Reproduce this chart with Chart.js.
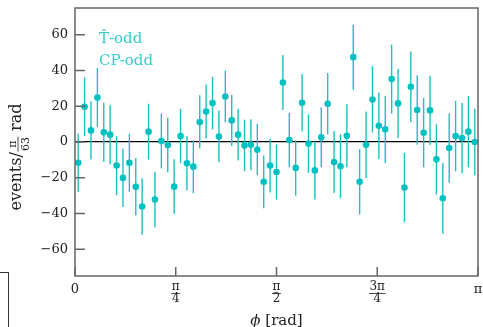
<!doctype html>
<html>
	<head>
		<meta charset="utf-8" />
		<title>phi distribution</title>
		<script src="https://cdn.jsdelivr.net/npm/chart.js@4.4.1/dist/chart.umd.min.js"></script>
		<style>
			html,
			body {
				margin: 0;
				padding: 0;
				background: #fff;
				overflow: hidden;
			}

			#wrap {
				position: relative;
				width: 483px;
				height: 327px;
			}

			/* stray box edge in the corner of the original figure */
			#corner {
				position: absolute;
				left: -2px;
				top: 272px;
				width: 10px;
				height: 60px;
				border-top: 1.5px solid #333;
				border-right: 1.5px solid #333;
			}
		</style>
	</head>

	<body>
		<div id="wrap">
			<canvas id="chartJSContainer" width="483" height="327"></canvas>
			<div id="corner"></div>
		</div>

		<script>
			// 63 bins over [0, pi]
			const nBins = 63;

			const yValues = [
				-11.6, 19.7, 6.5, 24.9, 5.4, 4.1, -13.2, -20.1, -11.6, -25.1,
				-36.1, 5.8, -32.2, 0.6, -1.7, -25.0, 3.3, -11.9, -13.8, 11.2,
				17.1, 21.8, 3.1, 25.5, 12.1, 4.1, -1.9, -1.5, -4.3, -22.3,
				-13.2, -16.8, 33.3, 1.1, -14.5, 22.0, -0.9, -15.9, 2.6, 21.4,
				-11.2, -13.6, 3.5, 47.5, -22.3, -1.5, 23.8, 9.1, 7.1, 35.2,
				21.6, -25.5, 30.9, 17.9, 5.2, 17.7, -9.7, -31.5, -3.4, 3.3,
				2.2, 5.8, 0.0,
			];

			const yErrors = [
				16.4, 16.5, 16.3, 16.6, 16.5, 16.5, 16.5, 16.3, 16.3, 16.1,
				15.8, 15.6, 15.5, 15.4, 15.3, 15.3, 15.2, 15.2, 14.8, 14.9,
				15.1, 14.7, 14.5, 14.5, 14.4, 14.4, 14.4, 14.3, 14.4, 14.8,
				15.0, 15.4, 15.4, 15.2, 15.5, 16.1, 16.3, 16.3, 16.8, 17.2,
				17.4, 17.9, 17.6, 18.2, 18.3, 18.6, 18.6, 18.6, 18.8, 19.3,
				19.3, 19.4, 19.7, 19.4, 19.4, 19.4, 19.7, 19.8, 19.4, 19.7,
				19.6, 19.9, 18.6,
			];

			const xTickValues = [0, Math.PI / 4, Math.PI / 2, (3 * Math.PI) / 4, Math.PI];
			const xTickLabels = ["0", ["π", "4"], ["π", "2"], ["3π", "4"], "π"];
			const yTickValues = [-60, -40, -20, 0, 20, 40, 60];
			const legendLines = ["T̂-odd", "CP-odd"];

			const pointColor = "#00C1C1";
			const barColor = "#1DC0C6";
			const frameColor = "#666";
			const serif = "'DejaVu Serif', serif";
			const fracSize = 12;

			// bin centres
			const points = yValues.map((v, i) => ({
				x: ((i + 0.5) * Math.PI) / nBins,
				y: v,
			}));

			function noPad(s) {
				s.paddingTop = 0;
				s.paddingBottom = 0;
				s.paddingLeft = 0;
				s.paddingRight = 0;
			}

			const decorations = {
				id: "decorations",
				beforeDatasetsDraw(chart) {
					// error bars, under the markers
					const { ctx } = chart;
					const xs = chart.scales.x,
						ys = chart.scales.y;
					ctx.save();
					ctx.strokeStyle = barColor;
					ctx.lineWidth = 1.4;
					points.forEach((p, i) => {
						const px = xs.getPixelForValue(p.x);
						ctx.beginPath();
						ctx.moveTo(px, ys.getPixelForValue(p.y - yErrors[i]));
						ctx.lineTo(px, ys.getPixelForValue(p.y + yErrors[i]));
						ctx.stroke();
					});
					ctx.restore();
				},
				afterDraw(chart) {
					const { ctx, chartArea: a } = chart;
					const xs = chart.scales.x,
						ys = chart.scales.y;
					ctx.save();

					// frame
					ctx.strokeStyle = frameColor;
					ctx.lineWidth = 1.5;
					ctx.strokeRect(a.left, a.top, a.right - a.left, a.bottom - a.top);

					// inward ticks
					ctx.beginPath();
					yTickValues.forEach((v) => {
						const py = ys.getPixelForValue(v);
						ctx.moveTo(a.left, py);
						ctx.lineTo(a.left + 10, py);
					});
					xTickValues.forEach((v) => {
						const px = xs.getPixelForValue(v);
						ctx.moveTo(px, a.bottom);
						ctx.lineTo(px, a.bottom - 9);
					});
					ctx.stroke();

					// fraction bars under the x tick labels
					ctx.strokeStyle = "#222";
					ctx.lineWidth = 0.8;
					ctx.font = fracSize + "px " + serif;
					xTickLabels.forEach((lab, i) => {
						if (!Array.isArray(lab)) return;
						const px = xs.getPixelForValue(xTickValues[i]);
						const w = Math.max(...lab.map((s) => ctx.measureText(s).width)) + 1;
						const py = a.bottom + 5 + fracSize + 0.5;
						ctx.beginPath();
						ctx.moveTo(px - w / 2, py);
						ctx.lineTo(px + w / 2, py);
						ctx.stroke();
					});

					// legend text
					ctx.fillStyle = "#36CCCC";
					ctx.font = "15px " + serif;
					ctx.textBaseline = "alphabetic";
					ctx.textAlign = "left";
					legendLines.forEach((s, i) => {
						ctx.fillText(s, a.left + 24, a.top + 35 + i * 22);
					});

					// x title
					ctx.fillStyle = "#222";
					ctx.textAlign = "left";
					const phi = "ϕ",
						rest = " [rad]";
					ctx.font = "italic 15px " + serif;
					const wPhi = ctx.measureText(phi).width;
					ctx.font = "15px " + serif;
					const wRest = ctx.measureText(rest).width;
					let tx = (a.left + a.right) / 2 - (wPhi + wRest) / 2;
					ctx.font = "italic 15px " + serif;
					ctx.fillText(phi, tx, 325);
					ctx.font = "15px " + serif;
					ctx.fillText(rest, tx + wPhi, 325);

					// y title: events / (pi over 63) rad
					ctx.translate(20.5, 157);
					ctx.rotate(-Math.PI / 2);
					ctx.font = "16px " + serif;
					const s1 = "events/",
						s2 = " rad";
					const w1 = ctx.measureText(s1).width,
						w2 = ctx.measureText(s2).width;
					ctx.font = "11px " + serif;
					const wf = Math.max(ctx.measureText("63").width, ctx.measureText("π").width) + 2;
					let x0 = -(w1 + wf + w2) / 2;
					ctx.font = "16px " + serif;
					ctx.fillText(s1, x0, 0);
					x0 += w1;
					ctx.font = "11px " + serif;
					ctx.textAlign = "center";
					ctx.fillText("π", x0 + wf / 2, -4.5);
					ctx.fillText("63", x0 + wf / 2, 8);
					ctx.lineWidth = 0.8;
					ctx.beginPath();
					ctx.moveTo(x0 + 0.5, -2.5);
					ctx.lineTo(x0 + wf - 0.5, -2.5);
					ctx.stroke();
					x0 += wf;
					ctx.textAlign = "left";
					ctx.font = "16px " + serif;
					ctx.fillText(s2, x0, 0);

					ctx.restore();
				},
			};

			const ctx = document.getElementById("chartJSContainer").getContext("2d");
			window.testedChart = new Chart(ctx, {
				type: "scatter",
				data: {
					datasets: [
						{
							label: legendLines.join(" "),
							data: points,
							backgroundColor: pointColor,
							borderWidth: 0,
							pointRadius: 3.3,
							showLine: false,
						},
					],
				},
				options: {
					responsive: false,
					animation: false,
					layout: { padding: { top: 8, right: 5, left: 0, bottom: 0 } },
					plugins: {
						legend: { display: false },
						tooltip: { enabled: false },
					},
					scales: {
						x: {
							type: "linear",
							min: 0,
							max: Math.PI,
							afterBuildTicks: (s) => {
								s.ticks = xTickValues.map((v) => ({ value: v }));
							},
							afterFit: (s) => {
								s.height = 51;
								noPad(s);
							},
							grid: { display: false, drawTicks: false },
							border: { display: false },
							ticks: {
								autoSkip: false,
								maxRotation: 0,
								padding: 5,
								color: "#222",
								font: (c) =>
									Array.isArray(xTickLabels[c.index])
										? { family: serif, size: fracSize, lineHeight: 1 }
										: { family: serif, size: 13, lineHeight: 1.3 },
								callback: (v, i) => xTickLabels[i],
							},
						},
						y: {
							type: "linear",
							min: -75,
							max: 75,
							afterBuildTicks: (s) => {
								s.ticks = yTickValues.map((v) => ({ value: v }));
							},
							afterFit: (s) => {
								s.width = 75;
								noPad(s);
							},
							grid: {
								drawTicks: false,
								lineWidth: 1.3,
								color: (c) => (c.tick && c.tick.value === 0 ? "#000" : "rgba(0,0,0,0)"),
							},
							border: { display: false },
							ticks: {
								padding: 7,
								color: "#222",
								font: { family: serif, size: 13 },
								callback: (v) => (v < 0 ? "−" + Math.abs(v) : String(v)),
							},
						},
					},
				},
				plugins: [decorations],
			});
		</script>
	</body>
</html>
